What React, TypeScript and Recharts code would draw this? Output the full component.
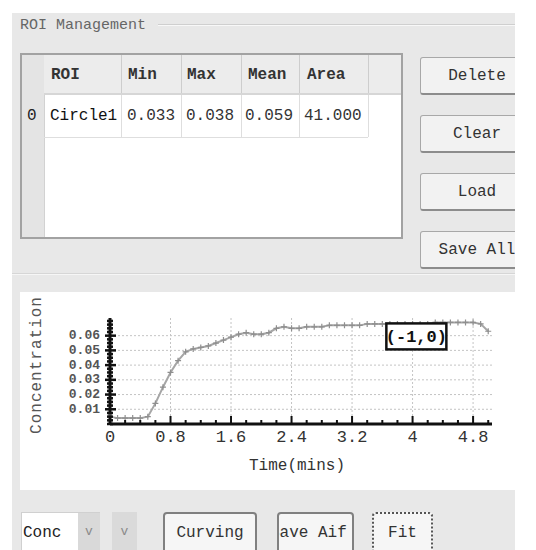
import React from 'react';
import { LineChart, Line, XAxis, YAxis, CartesianGrid, ReferenceDot } from 'recharts';

// curve samples
const timeMins = [
  0, 0.1, 0.2, 0.3, 0.4, 0.5, 0.6, 0.7, 0.8, 0.9,
  1.0, 1.1, 1.2, 1.3, 1.4, 1.5, 1.6, 1.7, 1.8, 1.9,
  2.0, 2.1, 2.2, 2.3, 2.4, 2.5, 2.6, 2.7, 2.8, 2.9,
  3.0, 3.1, 3.2, 3.3, 3.4, 3.5, 3.6, 3.7, 3.8, 3.9,
  4.0, 4.1, 4.2, 4.3, 4.4, 4.5, 4.6, 4.7, 4.8, 4.9, 5.0,
];
const concentration = [
  0.005, 0.004, 0.004, 0.004, 0.004, 0.005, 0.014, 0.025, 0.035, 0.043,
  0.049, 0.051, 0.052, 0.053, 0.055, 0.057, 0.059, 0.061, 0.062, 0.061,
  0.061, 0.062, 0.065, 0.066, 0.065, 0.065, 0.066, 0.066, 0.066, 0.067,
  0.067, 0.067, 0.067, 0.067, 0.068, 0.068, 0.068, 0.068, 0.068, 0.068,
  0.068, 0.068, 0.068, 0.069, 0.069, 0.069, 0.069, 0.069, 0.069, 0.068, 0.063,
];

const xTickValues = [
  0, 0.2, 0.4, 0.6, 0.8, 1.0, 1.2, 1.4, 1.6, 1.8, 2.0, 2.2, 2.4,
  2.6, 2.8, 3.0, 3.2, 3.4, 3.6, 3.8, 4.0, 4.2, 4.4, 4.6, 4.8, 5.0,
];
const xLabelValues = [0, 0.8, 1.6, 2.4, 3.2, 4, 4.8];
const yTickValues = [
  0, 0.0025, 0.005, 0.0075, 0.01, 0.0125, 0.015, 0.0175, 0.02, 0.0225,
  0.025, 0.0275, 0.03, 0.0325, 0.035, 0.0375, 0.04, 0.0425, 0.045, 0.0475,
  0.05, 0.0525, 0.055, 0.0575, 0.06, 0.0625, 0.065, 0.0675, 0.07,
];
const yLabelValues = [0.01, 0.02, 0.03, 0.04, 0.05, 0.06];

const roiColumns = ['ROI', 'Min', 'Max', 'Mean', 'Area'];
const roiRow = ['Circle1', '0.033', '0.038', '0.059', '41.000'];
const roiIndex = '0';
const sideButtons = ['Delete', 'Clear', 'Load', 'Save All'];

const chartData = timeMins.map((t, i) => ({ t, c: concentration[i] }));

const mono = '"Liberation Mono", "DejaVu Sans Mono", monospace';

const isLabel = (v: number, list: number[]) => list.some((l) => Math.abs(l - v) < 1e-6);

const XTick = (props: any) => {
  const { x, y, payload } = props;
  const v = payload.value;
  const major = isLabel(v, xLabelValues);
  return (
    <g>
      <line x1={x} y1={y} x2={x} y2={y - (major ? 8 : 4)} stroke="#111" strokeWidth={2} />
      {major && (
        <text x={x} y={y + 18} textAnchor="middle" fontFamily={mono} fontSize={17} fill="#333">
          {String(Number(v.toFixed(1)))}
        </text>
      )}
    </g>
  );
};

const YTick = (props: any) => {
  const { x, y, payload } = props;
  const v = payload.value;
  const major = isLabel(v, yLabelValues);
  return (
    <g>
      <line x1={x - (major ? 5 : 3)} y1={y} x2={x + (major ? 6 : 3)} y2={y} stroke="#111" strokeWidth={2.5} />
      {major && (
        <text x={x - 10} y={y} textAnchor="end" dominantBaseline="central" fontFamily={mono} fontSize={13} fontWeight="bold" fill="#555">
          {v.toFixed(2)}
        </text>
      )}
    </g>
  );
};

const PlusDot = (props: any) => {
  const { cx, cy } = props;
  if (cx == null || cy == null) return null;
  return <path d={`M${cx - 3},${cy}h6M${cx},${cy - 3}v6`} stroke="#8f8f8f" strokeWidth={1.2} fill="none" />;
};

const NoteBox = (props: any) => {
  const { cx, cy } = props;
  return (
    <g>
      <rect x={cx - 30} y={cy - 13} width={60} height={26} fill="#fff" stroke="#111" strokeWidth={2.5} />
      <text x={cx} y={cy + 1} textAnchor="middle" dominantBaseline="central" fontFamily={mono} fontSize={17} fontWeight="bold" fill="#111">
        (-1,0)
      </text>
    </g>
  );
};

const ConcChart = () => (
  <LineChart width={495} height={198} data={chartData} margin={{ top: 26, right: 23, bottom: 0, left: 0 }}>
    <CartesianGrid
      stroke="#c4c4c4"
      strokeDasharray="2 2"
      horizontalValues={yLabelValues}
      verticalValues={[0.8, 1.6, 2.4, 3.2, 4, 4.8]}
    />
    <XAxis
      dataKey="t"
      type="number"
      domain={[0, 5.05]}
      ticks={xTickValues}
      interval={0}
      tickSize={0}
      tickMargin={0}
      height={66}
      tick={XTick}
      axisLine={{ stroke: '#111', strokeWidth: 3 }}
      label={{
        content: ({ viewBox }: any) => (
          <text
            x={viewBox.x + 187}
            y={viewBox.y + 42}
            textAnchor="middle"
            dominantBaseline="central"
            fontFamily={mono}
            fontSize={16}
            fill="#333"
          >
            Time(mins)
          </text>
        ),
      }}
    />
    <YAxis
      type="number"
      domain={[0, 0.072]}
      ticks={yTickValues}
      interval={0}
      tickSize={0}
      tickMargin={0}
      width={90}
      tick={YTick}
      axisLine={{ stroke: '#111', strokeWidth: 3 }}
      label={{
        content: ({ viewBox }: any) => {
          const cx = viewBox.x + 17;
          const cy = viewBox.y + viewBox.height / 2 - 6;
          return (
            <text
              x={cx}
              y={cy}
              transform={`rotate(-90, ${cx}, ${cy})`}
              textAnchor="middle"
              dominantBaseline="central"
              fontFamily={mono}
              fontSize={16}
              letterSpacing={1}
              fill="#555"
            >
              Concentration
            </text>
          );
        },
      }}
    />
    <Line
      type="linear"
      dataKey="c"
      stroke="#a6a6a6"
      strokeWidth={2}
      dot={PlusDot}
      activeDot={false}
      isAnimationActive={false}
    />
    <ReferenceDot x={4.05} y={0.0595} r={1} shape={NoteBox} />
  </LineChart>
);

const headerLeft = [29, 106, 165, 226, 285];
const colLines = [99, 159, 219, 277, 346];
const cellLeft = [28, 105, 164, 223, 282];

const App = () => {
  return (
    <div style={{ position: 'absolute', left: 0, top: 0, width: 536, height: 550, background: '#fff', overflow: 'hidden', fontFamily: mono, color: '#222' }}>
      <div style={{ position: 'absolute', left: 12, top: 13, width: 503, height: 537, background: '#e8e8e8', overflow: 'hidden' }} />
      <div style={{ position: 'absolute', left: 0, top: 0, width: 515, height: 550, overflow: 'hidden' }}>
        {/* group box title */}
        <div style={{ position: 'absolute', left: 20, top: 16, fontSize: 15, color: '#666', lineHeight: '20px' }}>ROI Management</div>
        <div style={{ position: 'absolute', left: 158, top: 24, width: 360, height: 1, background: '#cfcfcf', borderBottom: '1px solid #f8f8f8' }} />

        {/* table */}
        <div style={{ position: 'absolute', left: 20, top: 53, width: 383, height: 186, border: '2px solid #a2a2a2', boxSizing: 'border-box', background: '#fff' }}>
          <div style={{ position: 'absolute', left: 0, top: 0, width: 22, height: 182, background: '#e4e4e4', borderRight: '1px solid #d2d2d2' }} />
          <div style={{ position: 'absolute', left: 22, top: 0, width: 357, height: 38, background: '#ececec', borderBottom: '2px solid #d6d6d6' }} />
          {colLines.map((x) => (
            <div key={'h' + x} style={{ position: 'absolute', left: x, top: 0, width: 1, height: 38, background: '#cdcdcd' }} />
          ))}
          {roiColumns.map((c, i) => (
            <div key={c} style={{ position: 'absolute', left: headerLeft[i], top: 0, height: 38, lineHeight: '40px', fontSize: 16, fontWeight: 'bold', color: '#333' }}>
              {c}
            </div>
          ))}
          {colLines.map((x) => (
            <div key={'d' + x} style={{ position: 'absolute', left: x, top: 40, width: 1, height: 42, background: '#dedede' }} />
          ))}
          <div style={{ position: 'absolute', left: 22, top: 82, width: 324, height: 1, background: '#dedede' }} />
          <div style={{ position: 'absolute', left: 5, top: 40, height: 42, lineHeight: '42px', fontSize: 16 }}>{roiIndex}</div>
          {roiRow.map((v, i) => (
            <div key={i} style={{ position: 'absolute', left: cellLeft[i], top: 40, height: 42, lineHeight: '42px', fontSize: 16, color: i === 0 ? '#111' : '#333' }}>
              {v}
            </div>
          ))}
        </div>

        {/* side buttons */}
        {sideButtons.map((b, i) => (
          <div
            key={b}
            style={{
              position: 'absolute',
              left: 420,
              top: 57 + i * 58,
              width: 114,
              height: 38,
              boxSizing: 'border-box',
              background: '#f2f2f2',
              border: '1px solid #a8a8a8',
              borderBottom: '2px solid #8c8c8c',
              borderRadius: 3,
              display: 'flex',
              alignItems: 'center',
              justifyContent: 'center',
              fontSize: 16,
              color: '#333',
              whiteSpace: 'nowrap',
            }}
          >
            {b}
          </div>
        ))}

        {/* group box bottom */}
        <div style={{ position: 'absolute', left: 12, top: 273, width: 503, height: 1, background: '#d6d6d6', borderBottom: '1px solid #f6f6f6' }} />

        {/* chart */}
        <div style={{ position: 'absolute', left: 20, top: 292, width: 495, height: 198, background: '#fff' }}>
          <ConcChart />
        </div>

        {/* bottom controls */}
        <div style={{ position: 'absolute', left: 21, top: 512, width: 79, height: 42, background: '#fff', border: '1px solid #d0d0d0', boxSizing: 'border-box' }}>
          <div style={{ position: 'absolute', left: 1, top: 0, lineHeight: '40px', fontSize: 16 }}>Conc</div>
          <div style={{ position: 'absolute', left: 56, top: 0, width: 22, height: 40, background: '#d9d9d9', color: '#8a8a8a', fontSize: 13, textAlign: 'center', lineHeight: '38px' }}>v</div>
        </div>
        <div style={{ position: 'absolute', left: 112, top: 512, width: 25, height: 42, background: '#dadada', color: '#8a8a8a', fontSize: 13, textAlign: 'center', lineHeight: '40px' }}>v</div>
        <div style={{ position: 'absolute', left: 163, top: 512, width: 94, height: 42, boxSizing: 'border-box', border: '2px solid #808080', borderRadius: 4, background: '#f6f6f6', display: 'flex', alignItems: 'center', justifyContent: 'center', fontSize: 16, color: '#333' }}>
          Curving
        </div>
        <div style={{ position: 'absolute', left: 277, top: 512, width: 77, height: 42, boxSizing: 'border-box', border: '2px solid #808080', borderRadius: 4, background: '#f6f6f6', overflow: 'hidden', fontSize: 16, color: '#333' }}>
          <div style={{ position: 'absolute', left: -9, top: 0, lineHeight: '38px', whiteSpace: 'nowrap' }}>Save Aif</div>
        </div>
        <div style={{ position: 'absolute', left: 372, top: 512, width: 61, height: 42, boxSizing: 'border-box', border: '2px dotted #555', borderRadius: 4, background: '#f6f6f6', display: 'flex', alignItems: 'center', justifyContent: 'center', fontSize: 16, color: '#333' }}>
          Fit
        </div>
      </div>
    </div>
  );
};

export default App;
